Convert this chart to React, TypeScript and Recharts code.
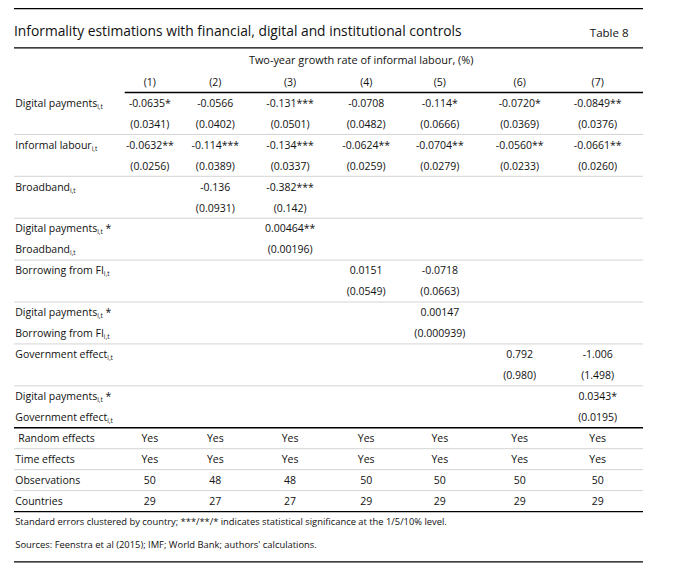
import React from "react";
import { ScatterChart, Scatter, XAxis, YAxis, ReferenceLine } from "recharts";

// ---------- data ----------
const columnLabels = ["(1)", "(2)", "(3)", "(4)", "(5)", "(6)", "(7)"];
const title = "Informality estimations with financial, digital and institutional controls";
const tableNo = "Table 8";
const dependentVar = "Two-year growth rate of informal labour, (%)";

const digitalPaymentsCoef = ["-0.0635*", "-0.0566", "-0.131***", "-0.0708", "-0.114*", "-0.0720*", "-0.0849**"];
const digitalPaymentsSE = ["(0.0341)", "(0.0402)", "(0.0501)", "(0.0482)", "(0.0666)", "(0.0369)", "(0.0376)"];
const informalLabourCoef = ["-0.0632**", "-0.114***", "-0.134***", "-0.0624**", "-0.0704**", "-0.0560**", "-0.0661**"];
const informalLabourSE = ["(0.0256)", "(0.0389)", "(0.0337)", "(0.0259)", "(0.0279)", "(0.0233)", "(0.0260)"];
const broadbandCoef = [null, "-0.136", "-0.382***", null, null, null, null];
const broadbandSE = [null, "(0.0931)", "(0.142)", null, null, null, null];
const dpBroadbandCoef = [null, null, "0.00464**", null, null, null, null];
const dpBroadbandSE = [null, null, "(0.00196)", null, null, null, null];
const borrowingCoef = [null, null, null, "0.0151", "-0.0718", null, null];
const borrowingSE = [null, null, null, "(0.0549)", "(0.0663)", null, null];
const dpBorrowingCoef = [null, null, null, null, "0.00147", null, null];
const dpBorrowingSE = [null, null, null, null, "(0.000939)", null, null];
const governmentCoef = [null, null, null, null, null, "0.792", "-1.006"];
const governmentSE = [null, null, null, null, null, "(0.980)", "(1.498)"];
const dpGovernmentCoef = [null, null, null, null, null, null, "0.0343*"];
const dpGovernmentSE = [null, null, null, null, null, null, "(0.0195)"];
const randomEffects = ["Yes", "Yes", "Yes", "Yes", "Yes", "Yes", "Yes"];
const timeEffects = ["Yes", "Yes", "Yes", "Yes", "Yes", "Yes", "Yes"];
const observations = [50, 48, 48, 50, 50, 50, 50];
const countries = [29, 27, 27, 29, 29, 29, 29];

const footnotes = [
  "Standard errors clustered by country; ***/**/* indicates statistical significance at the 1/5/10% level.",
  "Sources: Feenstra et al (2015); IMF; World Bank; authors' calculations.",
];

type RowDef = { label: string; sub?: string; suffix?: string; values: (string | number | null)[]; indent?: boolean };

const tableRows: RowDef[] = [
  { label: "Digital payments", sub: "i,t", values: digitalPaymentsCoef },
  { label: "", values: digitalPaymentsSE },
  { label: "Informal labour", sub: "i,t", values: informalLabourCoef },
  { label: "", values: informalLabourSE },
  { label: "Broadband", sub: "i,t", values: broadbandCoef },
  { label: "", values: broadbandSE },
  { label: "Digital payments", sub: "i,t", suffix: " *", values: dpBroadbandCoef },
  { label: "Broadband", sub: "i,t", values: dpBroadbandSE },
  { label: "Borrowing from FI", sub: "i,t", values: borrowingCoef },
  { label: "", values: borrowingSE },
  { label: "Digital payments", sub: "i,t", suffix: " *", values: dpBorrowingCoef },
  { label: "Borrowing from FI", sub: "i,t", values: dpBorrowingSE },
  { label: "Government effect", sub: "i,t", values: governmentCoef },
  { label: "", values: governmentSE },
  { label: "Digital payments", sub: "i,t", suffix: " *", values: dpGovernmentCoef },
  { label: "Government effect", sub: "i,t", values: dpGovernmentSE },
  { label: "Random effects", values: randomEffects, indent: true },
  { label: "Time effects", values: timeEffects },
  { label: "Observations", values: observations },
  { label: "Countries", values: countries },
];

// ---------- layout (table-width percent, row units) ----------
const colPos = [21.6, 32.0, 43.9, 56.0, 67.7, 80.4, 92.8];
const labelPos = 0.2;
const grayRules = [1.5, 3.5, 5.5, 7.5, 9.5, 11.5, 13.5, 16.5, 17.5, 18.5];
const blackRules = [15.5, 19.5];

const FONT = "'Open Sans', 'Noto Sans', sans-serif";
const TEXT = "#111";

type Cell = { x: number; y: number; text: string; sub?: string; suffix?: string; anchor: string; size: number; dx?: number };

const cells: Cell[] = [];
tableRows.forEach((row, r) => {
  if (row.label) {
    cells.push({ x: labelPos, y: r, text: row.label, sub: row.sub, suffix: row.suffix, anchor: "start", size: 10.5, dx: row.indent ? 3 : 0 });
  }
  row.values.forEach((v, c) => {
    if (v !== null && v !== undefined) cells.push({ x: colPos[c], y: r, text: String(v), anchor: "middle", size: 10.5 });
  });
});
columnLabels.forEach((l, c) => cells.push({ x: colPos[c], y: -1, text: l, anchor: "middle", size: 10.5 }));

const headerCells: Cell[] = [
  { x: 0, y: -3.44, text: title, anchor: "start", size: 13.8 },
  { x: 97.7, y: -3.34, text: tableNo, anchor: "end", size: 11.5 },
  { x: 55.2, y: -2.05, text: dependentVar, anchor: "middle", size: 10.9 },
  { x: labelPos, y: 19.98, text: footnotes[0], anchor: "start", size: 9.35 },
  { x: labelPos, y: 21.08, text: footnotes[1], anchor: "start", size: 9.4 },
];

const CellShape = (props: any) => {
  const { cx, cy, payload } = props;
  const p = payload as Cell;
  return (
    <text
      x={cx + (p.dx || 0)}
      y={cy}
      dy="0.36em"
      textAnchor={p.anchor as any}
      fontFamily={FONT}
      fontSize={p.size}
      fill={TEXT}
    >
      {p.text}
      {p.sub ? (
        <tspan fontSize={p.size * 0.62} dy={2}>
          {p.sub}
        </tspan>
      ) : null}
      {p.sub && p.suffix ? (
        <tspan fontSize={p.size} dy={-2}>
          {p.suffix}
        </tspan>
      ) : null}
    </text>
  );
};

const seg = (y: number, x1 = 0, x2 = 100) => [
  { x: x1, y },
  { x: x2, y },
];

export default function App() {
  return (
    <div style={{ position: "absolute", left: 0, top: 0, width: 683, height: 575, background: "#fff" }}>
      <ScatterChart width={683} height={575} margin={{ top: 8.7, bottom: 0.6, left: 14, right: 40 }}>
        <XAxis type="number" dataKey="x" domain={[0, 100]} hide allowDataOverflow />
        <YAxis type="number" dataKey="y" domain={[-4.5, 22.5]} reversed hide allowDataOverflow />
        <ReferenceLine segment={seg(-4.5)} stroke="#000" strokeWidth={1.3} ifOverflow="visible" />
        <ReferenceLine segment={seg(-2.63)} stroke="#000" strokeWidth={1.3} ifOverflow="visible" />
        <ReferenceLine segment={seg(-0.5, 17.6, 100)} stroke="#000" strokeWidth={1.3} ifOverflow="visible" />
        {grayRules.map((r) => (
          <ReferenceLine key={"g" + r} segment={seg(r)} stroke="#d4d4d4" strokeWidth={1} ifOverflow="visible" />
        ))}
        {blackRules.map((r) => (
          <ReferenceLine key={"b" + r} segment={seg(r)} stroke="#000" strokeWidth={1.3} ifOverflow="visible" />
        ))}
        <ReferenceLine segment={seg(21.9)} stroke="#000" strokeWidth={1.3} ifOverflow="visible" />
        <Scatter data={cells} shape={CellShape} isAnimationActive={false} />
        <Scatter data={headerCells} shape={CellShape} isAnimationActive={false} />
      </ScatterChart>
    </div>
  );
}
